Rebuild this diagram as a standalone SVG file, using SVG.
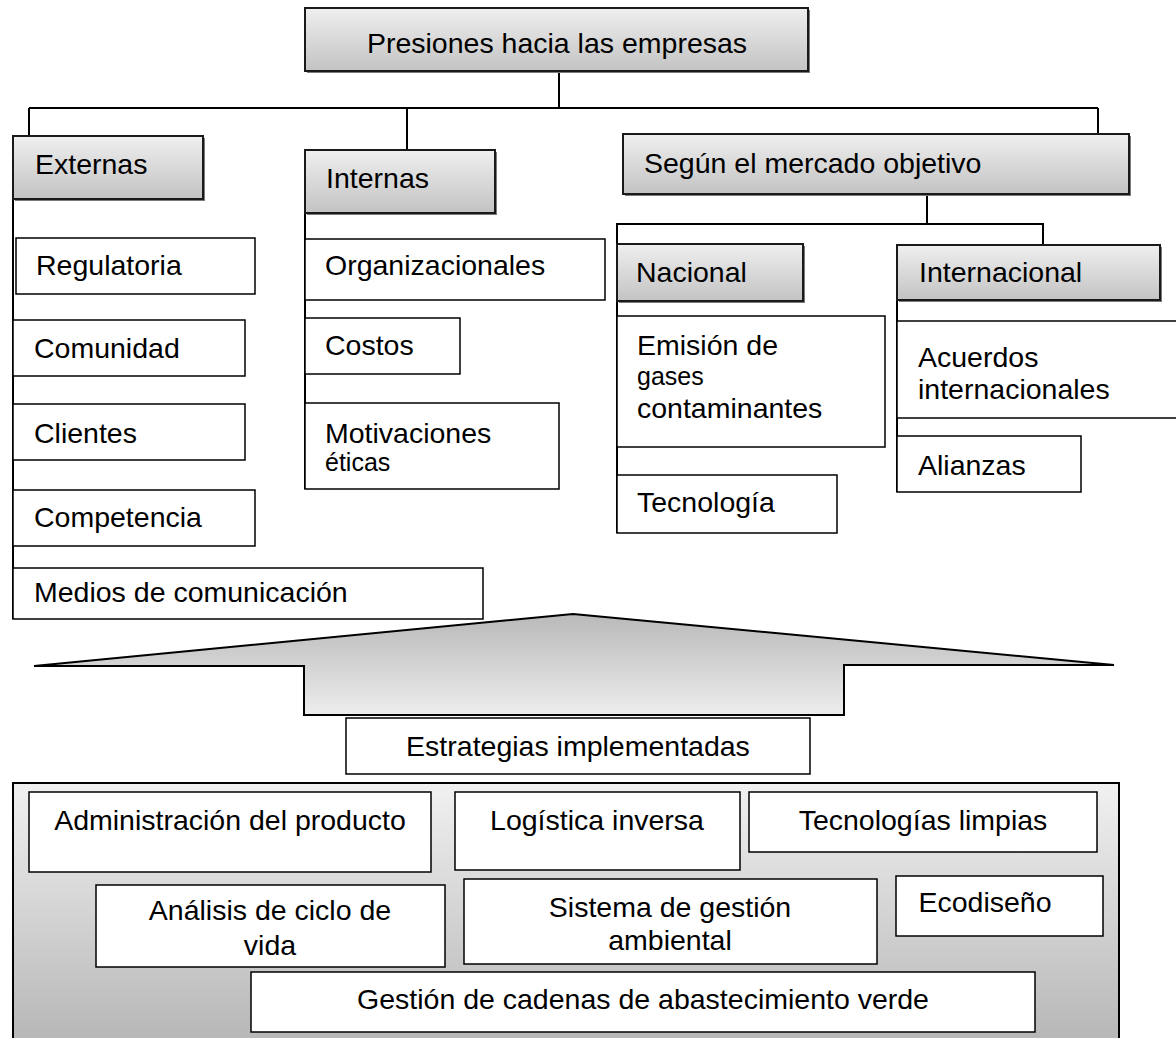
<svg xmlns="http://www.w3.org/2000/svg" width="1176" height="1038" viewBox="0 0 1176 1038">
  <style>
    text { font-family: "Liberation Sans", Arial, sans-serif; font-size: 28.5px; fill: #000; }
    .small { font-size: 25px; }
    .mid { text-anchor: middle; }
    .head { fill: url(#headFill); stroke: #1a1a1a; stroke-width: 2; }
    .shadow { fill: #7a7a7a; }
    .item { fill: #fff; stroke: #000; stroke-width: 1.5; }
    .conn line, .conn path { stroke: #000; stroke-width: 2; fill: none; }
  </style>
  <defs>
    <linearGradient id="headFill" x1="0" y1="0" x2="0" y2="1">
      <stop offset="0" stop-color="#efefef"/>
      <stop offset="1" stop-color="#c3c3c3"/>
    </linearGradient>
    <linearGradient id="arrowFill" x1="0" y1="0" x2="0" y2="1">
      <stop offset="0" stop-color="#b9b9b9"/>
      <stop offset="1" stop-color="#ededed"/>
    </linearGradient>
    <linearGradient id="panelFill" x1="0" y1="0" x2="0" y2="1">
      <stop offset="0" stop-color="#f1f1f1"/>
      <stop offset="1" stop-color="#b4b4b4"/>
    </linearGradient>
  </defs>

  <rect width="1176" height="1038" fill="#fff"/>

  <!-- connectors -->
  <g class="conn">
    <line x1="559" y1="71" x2="559" y2="108"/>
    <line x1="29" y1="108" x2="1098" y2="108"/>
    <line x1="29" y1="108" x2="29" y2="136"/>
    <line x1="407" y1="108" x2="407" y2="150"/>
    <line x1="1098" y1="108" x2="1098" y2="134"/>
    <line x1="13" y1="199" x2="13" y2="619"/>
    <line x1="305" y1="213" x2="305" y2="489"/>
    <line x1="927" y1="195" x2="927" y2="224"/>
    <path d="M617 244 V224 H1043 V245"/>
    <line x1="617" y1="301" x2="617" y2="533"/>
    <line x1="897" y1="300" x2="897" y2="492"/>
  </g>

  <!-- root -->
  <g id="presiones">
    <rect class="shadow" x="307" y="10" width="503" height="63"/>
    <rect class="head" x="305" y="8" width="503" height="63"/>
    <text class="mid" x="557" y="53">Presiones hacia las empresas</text>
  </g>

  <!-- externas -->
  <g id="externas">
    <rect class="shadow" x="15" y="138" width="190" height="63"/>
    <rect class="head" x="13" y="136" width="190" height="63"/>
    <text x="35" y="174">Externas</text>
  </g>
  <g id="regulatoria">
    <rect class="item" x="16" y="238" width="239" height="56"/>
    <text x="36" y="275">Regulatoria</text>
  </g>
  <g id="comunidad">
    <rect class="item" x="13" y="320" width="232" height="56"/>
    <text x="34" y="358">Comunidad</text>
  </g>
  <g id="clientes">
    <rect class="item" x="13" y="404" width="232" height="56"/>
    <text x="34" y="443">Clientes</text>
  </g>
  <g id="competencia">
    <rect class="item" x="13" y="490" width="242" height="56"/>
    <text x="34" y="527">Competencia</text>
  </g>
  <g id="medios">
    <rect class="item" x="13" y="568" width="470" height="51"/>
    <text x="34" y="602">Medios de comunicación</text>
  </g>

  <!-- internas -->
  <g id="internas">
    <rect class="shadow" x="307" y="152" width="190" height="63"/>
    <rect class="head" x="305" y="150" width="190" height="63"/>
    <text x="326" y="188">Internas</text>
  </g>
  <g id="organizacionales">
    <rect class="item" x="305" y="239" width="300" height="61"/>
    <text x="325" y="275">Organizacionales</text>
  </g>
  <g id="costos">
    <rect class="item" x="305" y="318" width="155" height="56"/>
    <text x="325" y="355">Costos</text>
  </g>
  <g id="motivaciones">
    <rect class="item" x="305" y="403" width="254" height="86"/>
    <text x="325" y="443">Motivaciones</text>
    <text class="small" x="325" y="471">éticas</text>
  </g>

  <!-- mercado objetivo -->
  <g id="mercado">
    <rect class="shadow" x="625" y="136" width="506" height="60"/>
    <rect class="head" x="623" y="134" width="506" height="60"/>
    <text x="644" y="173">Según el mercado objetivo</text>
  </g>
  <g id="nacional">
    <rect class="shadow" x="619" y="246" width="186" height="57"/>
    <rect class="head" x="617" y="244" width="186" height="57"/>
    <text x="636" y="282">Nacional</text>
  </g>
  <g id="emision">
    <rect class="item" x="617" y="316" width="268" height="131"/>
    <text x="637" y="355">Emisión de</text>
    <text class="small" x="637" y="385">gases</text>
    <text x="637" y="418">contaminantes</text>
  </g>
  <g id="tecnologia">
    <rect class="item" x="617" y="475" width="220" height="58"/>
    <text x="637" y="512">Tecnología</text>
  </g>
  <g id="internacional">
    <rect class="shadow" x="899" y="247" width="263" height="55"/>
    <rect class="head" x="897" y="245" width="263" height="55"/>
    <text x="919" y="282">Internacional</text>
  </g>
  <g id="acuerdos">
    <rect class="item" x="897" y="321" width="285" height="97"/>
    <text x="918" y="367">Acuerdos</text>
    <text x="918" y="399">internacionales</text>
  </g>
  <g id="alianzas">
    <rect class="item" x="897" y="436" width="184" height="56"/>
    <text x="918" y="475">Alianzas</text>
  </g>

  <!-- broad arrow leading down to the strategies -->
  <g id="flecha">
    <path d="M573 614 L1114 665 H844 V715 H304 V666 H34 Z" fill="url(#arrowFill)" stroke="#000" stroke-width="2" stroke-linejoin="miter"/>
  </g>

  <g id="estrategias">
    <rect class="item" x="346" y="718" width="464" height="56"/>
    <text class="mid" x="578" y="756">Estrategias implementadas</text>
  </g>

  <!-- strategies panel -->
  <g id="panel">
    <rect x="13" y="783" width="1106" height="270" fill="url(#panelFill)" stroke="#000" stroke-width="2"/>
  </g>
  <g id="administracion">
    <rect class="item" x="29" y="792" width="402" height="80"/>
    <text class="mid" x="230" y="830">Administración del producto</text>
  </g>
  <g id="logistica">
    <rect class="item" x="455" y="792" width="285" height="78"/>
    <text class="mid" x="597" y="830">Logística inversa</text>
  </g>
  <g id="tecnologias">
    <rect class="item" x="749" y="792" width="348" height="60"/>
    <text class="mid" x="923" y="830">Tecnologías limpias</text>
  </g>
  <g id="analisis">
    <rect class="item" x="96" y="885" width="349" height="82"/>
    <text class="mid" x="270" y="920">Análisis de ciclo de</text>
    <text class="mid" x="270" y="955">vida</text>
  </g>
  <g id="sistema">
    <rect class="item" x="464" y="879" width="413" height="85"/>
    <text class="mid" x="670" y="917">Sistema de gestión</text>
    <text class="mid" x="670" y="950">ambiental</text>
  </g>
  <g id="ecodiseno">
    <rect class="item" x="896" y="876" width="207" height="60"/>
    <text class="mid" x="985" y="912">Ecodiseño</text>
  </g>
  <g id="cadenas">
    <rect class="item" x="251" y="972" width="784" height="60"/>
    <text class="mid" x="643" y="1009">Gestión de cadenas de abastecimiento verde</text>
  </g>
</svg>
